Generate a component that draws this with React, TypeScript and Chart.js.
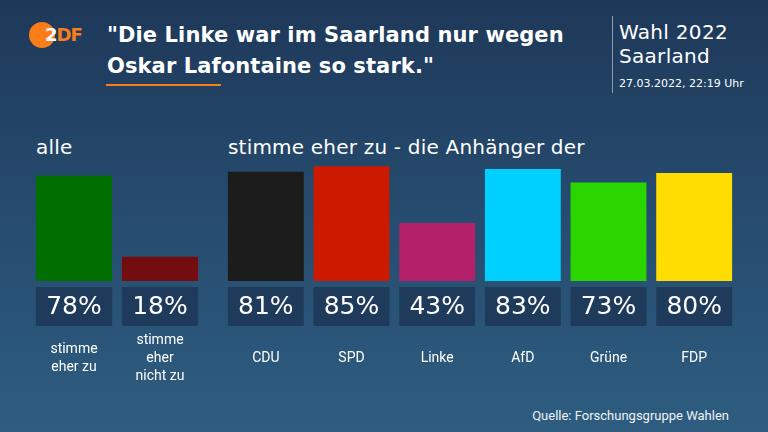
import React, { useEffect, useRef } from "react";
import { Chart, registerables } from "chart.js";

Chart.register(...registerables);

const groupLabels = [["stimme", "eher zu"], ["stimme", "eher", "nicht zu"]];
const groupValues = [78, 18];
const groupColors = ["#006e00", "#730d10"];

const partyLabels = [["CDU"], ["SPD"], ["Linke"], ["AfD"], ["Grüne"], ["FDP"]];
const partyValues = [81, 85, 43, 83, 73, 80];
const partyColors = ["#1c1c1c", "#cc1a00", "#b5206a", "#00d0ff", "#2bd600", "#ffdd00"];

const FONT = "Roboto, 'Noto Sans', sans-serif";
const WIDE = "'DejaVu Sans', sans-serif";

const boxPlugin = {
  id: "boxes",
  afterDatasetsDraw(chart: any) {
    const ctx = chart.ctx;
    const meta = chart.getDatasetMeta(0);
    const base = chart.scales.y.getPixelForValue(0);
    const labels = chart.data.labels as string[][];
    const values = chart.data.datasets[0].data as number[];
    meta.data.forEach((bar: any, i: number) => {
      const w = bar.width;
      const x0 = bar.x - w / 2;
      ctx.save();
      ctx.fillStyle = "#1f3b5c";
      ctx.fillRect(x0, base + 6, w, 39);
      ctx.fillStyle = "#ffffff";
      ctx.font = `25px ${WIDE}`;
      ctx.textAlign = "center";
      ctx.textBaseline = "middle";
      ctx.fillText(values[i] + "%", bar.x, base + 26);
      ctx.font = `14px ${FONT}`;
      const lines = labels[i];
      const lh = 18;
      const cy = base + 77;
      lines.forEach((ln, k) => {
        ctx.fillText(ln, bar.x, cy + (k - (lines.length - 1) / 2) * lh);
      });
      ctx.restore();
    });
  },
};

function BarChart({ labels, values, colors, style }: any) {
  const ref = useRef<HTMLCanvasElement>(null);
  useEffect(() => {
    const chart = new Chart(ref.current!, {
      type: "bar",
      data: {
        labels,
        datasets: [
          {
            data: values,
            backgroundColor: colors,
            borderWidth: 0,
            barPercentage: 1,
            categoryPercentage: 0.886,
          },
        ],
      },
      options: {
        animation: false,
        responsive: false,
        maintainAspectRatio: false,
        layout: { padding: { top: 6, bottom: 119, left: 0, right: 0 } },
        plugins: { legend: { display: false }, tooltip: { enabled: false } },
        scales: {
          x: { display: false },
          y: { display: false, min: 0, max: 100 },
        },
      },
      plugins: [boxPlugin],
    });
    return () => chart.destroy();
  }, []);
  return (
    <canvas
      ref={ref}
      width={style.width}
      height={style.height}
      style={{ position: "absolute", ...style }}
    />
  );
}

export default function App() {
  useEffect(() => {
    document.body.style.margin = "0";
  }, []);
  const txt: React.CSSProperties = { position: "absolute", color: "#fff", fontFamily: FONT, whiteSpace: "nowrap" };
  return (
    <div
      style={{
        position: "relative",
        width: 768,
        height: 432,
        overflow: "hidden",
        background: "linear-gradient(180deg, #1e3859 0%, #254a6d 45%, #2e5d80 100%)",
      }}
    >
      {/* logo */}
      <div style={{ position: "absolute", left: 29, top: 22, width: 26, height: 26, borderRadius: 13, background: "#fa7d19" }} />
      <div style={{ ...txt, left: 45, top: 24, fontSize: 18, fontWeight: 700, letterSpacing: -1, lineHeight: "22px", fontFamily: WIDE }}>
        <span style={{ color: "#fff" }}>2</span>
        <span style={{ color: "#fa7d19" }}>DF</span>
      </div>
      {/* title */}
      <div style={{ ...txt, left: 107, top: 20, fontSize: 21, fontWeight: 700, letterSpacing: 0.1, lineHeight: "31px", fontFamily: WIDE }}>
        "Die Linke war im Saarland nur wegen
        <br />
        Oskar Lafontaine so stark."
      </div>
      <div style={{ position: "absolute", left: 106, top: 84, width: 115, height: 2, background: "#fa7d19" }} />
      {/* right header */}
      <div style={{ position: "absolute", left: 612, top: 16, width: 1, height: 77, background: "#8a9bb0" }} />
      <div style={{ ...txt, left: 619, top: 20, fontSize: 20, letterSpacing: 0.3, lineHeight: "24px", fontFamily: WIDE }}>
        Wahl 2022
        <br />
        Saarland
      </div>
      <div style={{ ...txt, left: 619, top: 77, fontSize: 11, lineHeight: "14px", fontFamily: WIDE }}>27.03.2022, 22:19 Uhr</div>
      {/* section headings */}
      <div style={{ ...txt, left: 36, top: 135, fontSize: 20, letterSpacing: 0.2, lineHeight: "24px", fontFamily: WIDE }}>alle</div>
      <div style={{ ...txt, left: 228, top: 135, fontSize: 20, letterSpacing: 0.2, lineHeight: "24px", fontFamily: WIDE }}>stimme eher zu - die Anhänger der</div>
      <BarChart labels={groupLabels} values={groupValues} colors={groupColors} style={{ left: 31, top: 140, width: 172, height: 260 }} />
      <BarChart labels={partyLabels} values={partyValues} colors={partyColors} style={{ left: 223, top: 140, width: 514, height: 260 }} />
      <div style={{ ...txt, right: 39, top: 408, fontSize: 13, lineHeight: "16px", color: "#eef2f6" }}>Quelle: Forschungsgruppe Wahlen</div>
    </div>
  );
}
